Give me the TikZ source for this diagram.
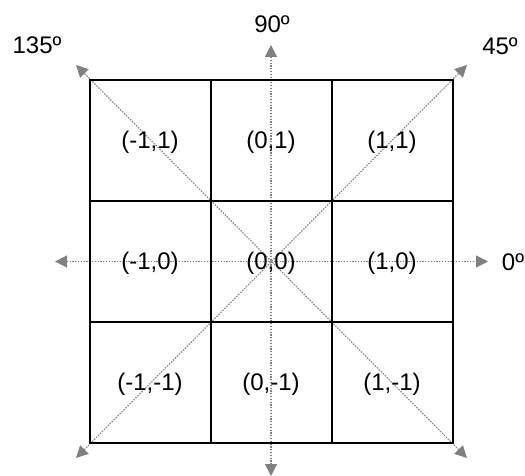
\documentclass[tikz,border=0pt]{standalone}
\usepackage{fontspec}
\setmainfont{Liberation Sans}
\usetikzlibrary{positioning,arrows.meta}

\begin{document}
\begin{tikzpicture}[x=1pt, y=-1pt, >={Triangle[length=12pt,width=12pt]}, node distance=0pt,
  cell/.style={draw, line width=2pt, outer sep=0pt, minimum size=121pt, inner sep=0pt, text height=21pt, text depth=5pt, font=\fontsize{24}{24}\selectfont},
  dir/.style={<->, draw=gray, fill=gray, line width=1.2pt, dash pattern=on 1.2pt off 1.6pt},
  deg/.style={font=\fontsize{24}{24}\selectfont}]
\useasboundingbox (0,0) rectangle (525,476);

% ends of the direction arrows
\coordinate (e0) at (488,261.5);
\coordinate (e180) at (55,261.5);
\coordinate (e90) at (271,45);
\coordinate (e270) at (271,476);
\coordinate (e45) at (467,65);
\coordinate (e225) at (76,458);
\coordinate (e135) at (76,65);
\coordinate (e315) at (467,458);

\draw[dir] (e180) -- (e0);
\draw[dir] (e270) -- (e90);
\draw[dir] (e225) -- (e45);
\draw[dir] (e315) -- (e135);

% the nine cells
\node[cell] (c) at (271,261.5) {(0,0)};
\node[cell] (n) [above=of c] {(0,1)};
\node[cell] (s) [below=of c] {(0,-1)};
\node[cell] (w) [left=of c] {(-1,0)};
\node[cell] (e) [right=of c] {(1,0)};
\node[cell] (nw) [left=of n] {(-1,1)};
\node[cell] (ne) [right=of n] {(1,1)};
\node[cell] (sw) [left=of s] {(-1,-1)};
\node[cell] (se) [right=of s] {(1,-1)};

% angle labels
\node[deg] (l0) at (513,262) {0º};
\node[deg] (l45) at (500,46) {45º};
\node[deg] (l90) at (272,24) {90º};
\node[deg] (l135) at (37,45) {135º};
\end{tikzpicture}
\end{document}
